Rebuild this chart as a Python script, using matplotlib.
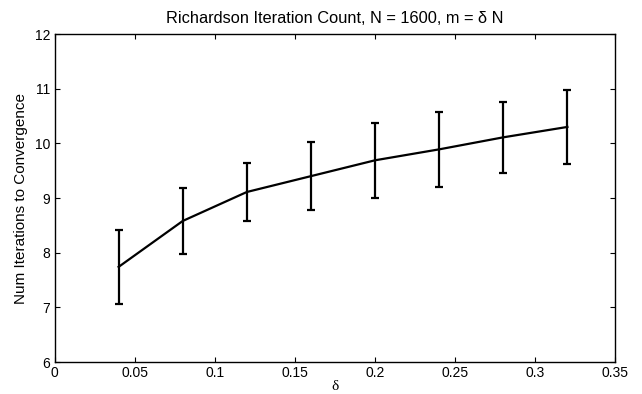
import matplotlib
matplotlib.use("Agg")
import matplotlib.pyplot as plt

plt.rcParams['font.family'] = ['Liberation Sans', 'DejaVu Sans']
plt.rcParams['font.size'] = 10

# --- DATA ---
delta = [0.04, 0.08, 0.12, 0.16, 0.20, 0.24, 0.28, 0.32]
iters_mean = [7.74, 8.58, 9.11, 9.40, 9.69, 9.89, 10.11, 10.30]
iters_err = [0.68, 0.61, 0.53, 0.62, 0.69, 0.69, 0.65, 0.67]
xticks = [0, 0.05, 0.1, 0.15, 0.2, 0.25, 0.3, 0.35]
xticklabels = ['0', '0.05', '0.1', '0.15', '0.2', '0.25', '0.3', '0.35']
yticks = [6, 7, 8, 9, 10, 11, 12]

fig = plt.figure(figsize=(6.42, 3.94), dpi=100)
ax = fig.add_axes([0.0849, 0.0812, 0.8738, 0.8325])

ax.errorbar(delta, iters_mean, yerr=iters_err, color='black', linewidth=1.6,
            elinewidth=1.6, capsize=3, capthick=1.6)

ax.set_xlim(0, 0.35)
ax.set_ylim(6, 12)
ax.set_xticks(xticks)
ax.set_xticklabels(xticklabels)
ax.set_yticks(yticks)
ax.tick_params(direction='in', top=True, right=True, length=3.5, width=0.8, pad=3)
for s in ax.spines.values():
    s.set_linewidth(1.0)

ax.set_title("Richardson Iteration Count, N = 1600, m = \u03b4 N", pad=8, fontsize=11.8)
ax.set_xlabel("\u03b4", labelpad=0, family=['Liberation Serif', 'DejaVu Serif'], fontsize=11)
ax.set_ylabel("Num Iterations to Convergence", labelpad=5, fontsize=11)

fig.savefig("out.png", dpi=100)
